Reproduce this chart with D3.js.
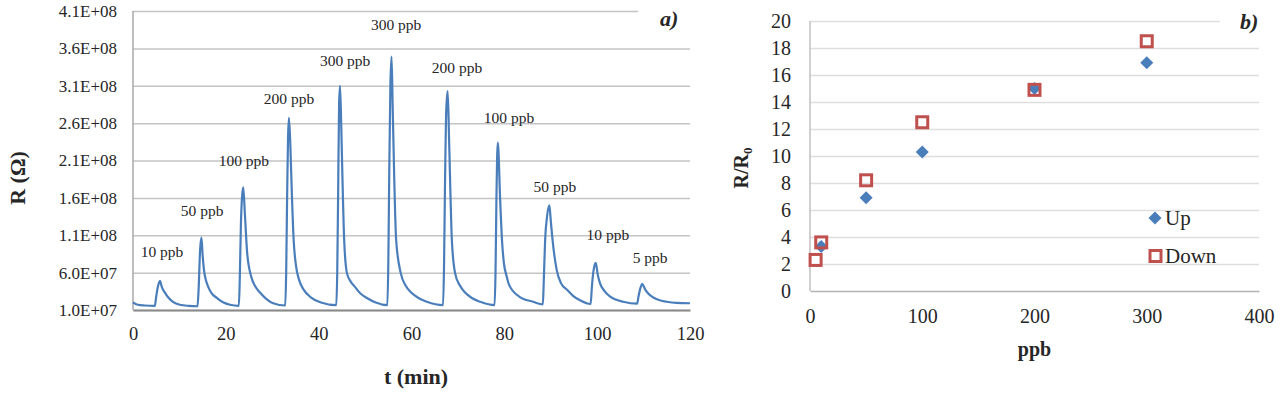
<!DOCTYPE html>
<html>
<head>
<meta charset="utf-8">
<script src="https://cdnjs.cloudflare.com/ajax/libs/d3/7.8.5/d3.min.js"></script>
<style>
  body { margin: 0; background: #fff; }
  svg { display: block; }
  text { font-family: "Liberation Serif", "Times New Roman", serif; }
</style>
</head>
<body>
<div id="chart"></div>
<script>
// ---- panel a) : resistance trace ----
const traceT = [0, 1, 2.5, 4.7, 5.0, 5.4, 5.8, 6.2, 6.9, 7.7, 8.6, 10.1, 12.0, 13.9,
  14.15, 14.45, 14.75, 15.0, 15.3, 15.7, 16.2, 17.0, 18.1, 19.5, 20.9, 22.8,
  23.0, 23.25, 23.5, 23.75, 24.1, 24.6, 25.5, 26.3, 27.4, 28.7, 30.2, 32.8,
  33.0, 33.2, 33.4, 33.6, 33.9, 34.2, 34.6, 35.1, 35.8, 36.8, 38.3, 40.5, 43.8,
  44.0, 44.2, 44.4, 44.6, 44.85, 45.1, 45.5, 46.1, 46.9, 47.8, 49.0, 50.4, 52.3, 54.8,
  55.0, 55.2, 55.45, 55.7, 55.95, 56.1, 56.7, 57.7, 58.7, 60.0, 61.5, 63.3, 66.8,
  67.0, 67.2, 67.5, 67.8, 68.1, 68.7, 69.4, 70.4, 71.6, 73.0, 74.8, 77.9,
  78.1, 78.3, 78.45, 78.6, 79.1, 79.5, 79.9, 80.5, 81.0, 83.2, 86.2, 88.3,
  88.5, 88.8, 89.2, 89.7, 90.0, 90.4, 91.3, 92.2, 93.5, 94.8, 96.3, 98.6,
  98.85, 99.2, 99.7, 100.1, 100.6, 101.5, 102.8, 104.0, 105.6, 108.6,
  108.9, 109.3, 109.7, 110.3, 111.0, 112.0, 113.5, 115.0, 117.1, 120];
const traceR = [2.0e7, 1.7e7, 1.6e7, 1.55e7, 2.8e7, 4.2e7, 4.9e7, 4.1e7, 3.3e7, 2.6e7, 2.1e7, 1.7e7, 1.55e7, 1.5e7,
  4.0e7, 9.0e7, 1.07e8, 8.3e7, 6.3e7, 5.0e7, 4.1e7, 3.2e7, 2.6e7, 2.0e7, 1.7e7, 1.55e7,
  5.0e7, 1.25e8, 1.62e8, 1.74e8, 1.39e8, 8.6e7, 5.4e7, 4.2e7, 3.3e7, 2.5e7, 1.9e7, 1.6e7,
  6.0e7, 1.6e8, 2.4e8, 2.67e8, 2.3e8, 1.7e8, 1.05e8, 7.0e7, 5.0e7, 3.7e7, 2.7e7, 2.0e7, 1.65e7,
  6.0e7, 1.7e8, 2.85e8, 3.1e8, 2.6e8, 1.93e8, 1.03e8, 5.9e7, 4.8e7, 4.1e7, 3.2e7, 2.6e7, 2.0e7, 1.65e7,
  7.0e7, 1.9e8, 3.1e8, 3.49e8, 2.8e8, 2.37e8, 1.03e8, 5.9e7, 4.3e7, 3.3e7, 2.6e7, 2.1e7, 1.65e7,
  6.5e7, 1.7e8, 2.8e8, 3.03e8, 2.37e8, 1.03e8, 5.9e7, 4.3e7, 3.3e7, 2.6e7, 2.1e7, 1.65e7,
  6.0e7, 1.6e8, 2.15e8, 2.34e8, 1.57e8, 1.03e8, 7.3e7, 5.5e7, 4.4e7, 2.8e7, 2.1e7, 1.75e7,
  5.0e7, 1.05e8, 1.35e8, 1.5e8, 1.3e8, 1.03e8, 6.3e7, 4.6e7, 3.7e7, 2.9e7, 2.3e7, 1.8e7,
  4.0e7, 6.2e7, 7.3e7, 5.8e7, 4.6e7, 3.6e7, 2.8e7, 2.4e7, 2.1e7, 1.85e7,
  2.8e7, 3.9e7, 4.5e7, 3.8e7, 3.2e7, 2.7e7, 2.3e7, 2.1e7, 1.95e7, 1.9e7];

const peakLabels = ["10 ppb", "50 ppb", "100 ppb", "200 ppb", "300 ppb", "300 ppb",
  "200 ppb", "100 ppb", "50 ppb", "10 ppb", "5 ppb"];
const peakLabelT = [6.25, 14.9, 23.9, 33.6, 45.7, 56.7, 69.8, 81.0, 90.9, 102.3, 111.4];
const peakLabelR = [8.1e7, 1.36e8, 2.03e8, 2.86e8, 3.36e8, 3.85e8, 3.27e8, 2.6e8, 1.68e8, 1.04e8, 7.3e7];

const xTicksA = [0, 20, 40, 60, 80, 100, 120];
const yTicksA = [1.0e7, 6.0e7, 1.1e8, 1.6e8, 2.1e8, 2.6e8, 3.1e8, 3.6e8, 4.1e8];

// ---- panel b) : response vs concentration ----
const upPpb = [10, 50, 100, 200, 300];
const upRatio = [3.3, 6.9, 10.3, 15.0, 16.9];
const downPpb = [5, 10, 50, 100, 200, 300];
const downRatio = [2.3, 3.6, 8.2, 12.5, 14.9, 18.5];
const xTicksB = [0, 100, 200, 300, 400];
const yTicksB = [0, 2, 4, 6, 8, 10, 12, 14, 16, 18, 20];

const W = 1287, H = 395;
const blue = "#4a7ebb", red = "#c0504d", txt = "#262626";

const svg = d3.select("#chart").append("svg")
  .attr("width", W).attr("height", H);
svg.append("rect").attr("width", W).attr("height", H).attr("fill", "#fff");

function sciFmt(d) {
  const e = Math.floor(Math.log10(d) + 1e-9);
  return (d / Math.pow(10, e)).toFixed(1) + "E+" + String(e).padStart(2, "0");
}

// ===== panel a =====
const xA = d3.scaleLinear().domain([0, 120]).range([133, 690]);
const yA = d3.scaleLinear().domain([1e7, 4.1e8]).range([310, 11]);

const gridA = svg.append("g")
  .attr("transform", `translate(${xA(0)},0)`)
  .call(d3.axisLeft(yA).tickValues(yTicksA).tickFormat(sciFmt)
    .tickSize(-(xA(120) - xA(0))).tickPadding(16));
gridA.select(".domain").remove();
gridA.selectAll("line").attr("stroke", "#c4c4c4").attr("stroke-width", 1.5);
gridA.selectAll(".tick").filter(d => d === 4.1e8).select("line")
  .attr("x2", 638 - xA(0));
gridA.selectAll("text").attr("font-size", 17).attr("fill", txt);

// left axis line
svg.append("line")
  .attr("x1", xA(0)).attr("x2", xA(0))
  .attr("y1", yA(4.1e8)).attr("y2", yA(1e7))
  .attr("stroke", "#a8a8a8").attr("stroke-width", 1.5);

const axA = svg.append("g")
  .attr("transform", `translate(0,${yA(1e7)})`)
  .call(d3.axisBottom(xA).tickValues(xTicksA).tickSize(0).tickPadding(17));
axA.select(".domain").attr("stroke", "#8a8a8a").attr("stroke-width", 2);
axA.selectAll("text").attr("font-size", 18.5).attr("fill", txt);

const line = d3.line()
  .x((d, i) => xA(traceT[i]))
  .y(d => yA(d))
  .curve(d3.curveMonotoneX);
svg.append("path")
  .datum(traceR)
  .attr("d", line)
  .attr("fill", "none")
  .attr("stroke", blue)
  .attr("stroke-width", 2.2)
  .attr("stroke-linejoin", "round");

svg.append("g").selectAll("text")
  .data(peakLabels)
  .join("text")
  .attr("x", (d, i) => xA(peakLabelT[i]))
  .attr("y", (d, i) => yA(peakLabelR[i]))
  .attr("text-anchor", "middle")
  .attr("font-size", 15.5)
  .attr("fill", txt)
  .text(d => d);

svg.append("text")
  .attr("x", 416).attr("y", 384)
  .attr("text-anchor", "middle")
  .attr("font-size", 22).attr("font-weight", "bold").attr("fill", txt)
  .text("t (min)");

svg.append("text")
  .attr("transform", "translate(25,178) rotate(-90)")
  .attr("text-anchor", "middle")
  .attr("font-size", 22).attr("font-weight", "bold").attr("fill", txt)
  .text("R (Ω)");

svg.append("text")
  .attr("x", 660).attr("y", 26)
  .attr("font-size", 22).attr("font-weight", "bold").attr("font-style", "italic")
  .attr("fill", txt)
  .text("a)");

// ===== panel b =====
const xB = d3.scaleLinear().domain([0, 400]).range([810, 1259]);
const yB = d3.scaleLinear().domain([0, 20]).range([291, 21]);

const gridB = svg.append("g")
  .attr("transform", `translate(${xB(0)},0)`)
  .call(d3.axisLeft(yB).tickValues(yTicksB)
    .tickSize(-(xB(400) - xB(0))).tickPadding(19));
gridB.select(".domain").remove();
gridB.selectAll("line").attr("stroke", "#dedede").attr("stroke-width", 1.5);
gridB.selectAll(".tick").filter(d => d === 20).select("line")
  .attr("x2", 1220 - xB(0));
gridB.selectAll(".tick").filter(d => d === 0).select("line").remove();
gridB.selectAll("text").attr("font-size", 20).attr("fill", txt);

svg.append("line")
  .attr("x1", xB(0)).attr("x2", xB(0))
  .attr("y1", yB(20)).attr("y2", yB(0))
  .attr("stroke", "#c0c0c0").attr("stroke-width", 1.5);

const axB = svg.append("g")
  .attr("transform", `translate(0,${yB(0)})`)
  .call(d3.axisBottom(xB).tickValues(xTicksB).tickSize(0).tickPadding(18));
axB.select(".domain").attr("stroke", "#b4b4b4").attr("stroke-width", 1.5);
axB.selectAll("text").attr("font-size", 20).attr("fill", txt);

const diamond = d3.symbol().type(d3.symbolDiamond2).size(108);

svg.append("g").selectAll("path")
  .data(upRatio)
  .join("path")
  .attr("d", diamond)
  .attr("transform", (d, i) => `translate(${xB(upPpb[i])},${yB(d)})`)
  .attr("fill", blue);

svg.append("g").selectAll("rect")
  .data(downRatio)
  .join("rect")
  .attr("x", (d, i) => xB(downPpb[i]) - 5.5)
  .attr("y", d => yB(d) - 5.5)
  .attr("width", 11).attr("height", 11)
  .attr("fill", "none")
  .attr("stroke", red)
  .attr("stroke-width", 3);

// legend
const legend = svg.append("g");
legend.append("path")
  .attr("d", diamond)
  .attr("transform", "translate(1155,218)")
  .attr("fill", blue);
legend.append("text")
  .attr("x", 1165).attr("y", 225)
  .attr("font-size", 21).attr("fill", txt)
  .text("Up");
legend.append("rect")
  .attr("x", 1150).attr("y", 250.5).attr("width", 11).attr("height", 11)
  .attr("fill", "none").attr("stroke", red).attr("stroke-width", 3);
legend.append("text")
  .attr("x", 1165).attr("y", 263)
  .attr("font-size", 21).attr("fill", txt)
  .text("Down");

svg.append("text")
  .attr("x", xB(200)).attr("y", 356)
  .attr("text-anchor", "middle")
  .attr("font-size", 20).attr("font-weight", "bold").attr("fill", txt)
  .text("ppb");

const yTitle = svg.append("text")
  .attr("transform", "translate(748,168) rotate(-90)")
  .attr("text-anchor", "middle")
  .attr("font-size", 20).attr("font-weight", "bold").attr("fill", txt);
yTitle.append("tspan").text("R/R");
yTitle.append("tspan").attr("font-size", 13).attr("dy", 4).text("0");

svg.append("text")
  .attr("x", 1240).attr("y", 29)
  .attr("font-size", 22).attr("font-weight", "bold").attr("font-style", "italic")
  .attr("fill", txt)
  .text("b)");
</script>
</body>
</html>
